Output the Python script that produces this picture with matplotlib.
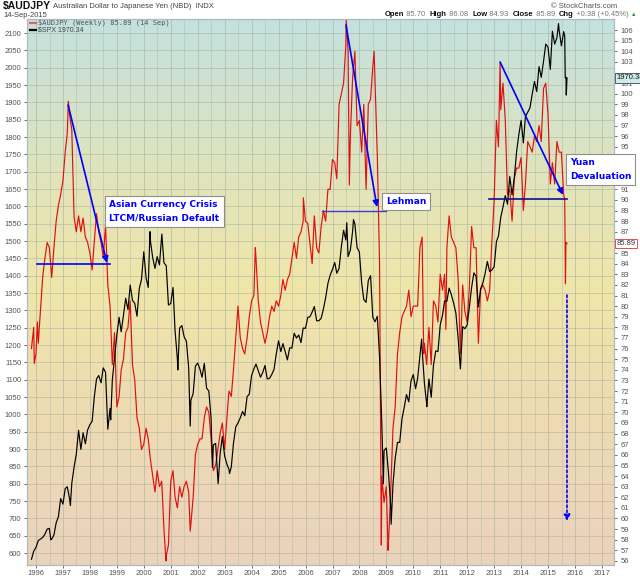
import numpy as np
import pandas as pd
import matplotlib
matplotlib.use("Agg")
import matplotlib.pyplot as plt
from matplotlib.colors import LinearSegmentedColormap
from matplotlib.lines import Line2D

# S&P 500 month-end values, Oct 1995 .. Aug 2015 (left axis)
spx_monthly = [
    582, 605, 616,
    636, 640, 645, 654, 669, 671, 640, 652, 687, 705, 757, 741,
    786, 791, 757, 801, 848, 885, 954, 899, 947, 915, 955, 970,
    980, 1049, 1102, 1112, 1091, 1134, 1121, 957, 1017, 1099, 1164, 1229,
    1280, 1238, 1286, 1335, 1302, 1373, 1329, 1320, 1283, 1363, 1389, 1469,
    1394, 1366, 1499, 1452, 1421, 1455, 1431, 1518, 1437, 1429, 1315, 1320,
    1366, 1240, 1160, 1249, 1256, 1224, 1211, 1134, 1041, 1060, 1139, 1148,
    1130, 1107, 1147, 1076, 1067, 990, 912, 916, 815, 886, 936, 880,
    856, 841, 848, 917, 964, 975, 990, 1008, 996, 1051, 1058, 1112,
    1131, 1145, 1126, 1107, 1121, 1141, 1102, 1104, 1115, 1130, 1174, 1212,
    1181, 1204, 1181, 1157, 1192, 1191, 1234, 1220, 1229, 1207, 1249, 1248,
    1280, 1281, 1295, 1311, 1270, 1270, 1277, 1304, 1336, 1378, 1401, 1418,
    1438, 1407, 1421, 1482, 1531, 1503, 1455, 1474, 1527, 1549, 1481, 1468,
    1379, 1331, 1323, 1386, 1400, 1280, 1267, 1283, 1166, 969, 896, 903,
    826, 735, 798, 873, 919, 919, 987, 1021, 1057, 1036, 1096, 1115,
    1074, 1104, 1169, 1187, 1089, 1031, 1102, 1049, 1141, 1183, 1181, 1258,
    1286, 1327, 1326, 1364, 1345, 1321, 1292, 1219, 1131, 1253, 1247, 1258,
    1312, 1366, 1408, 1398, 1310, 1362, 1379, 1407, 1441, 1412, 1416, 1426,
    1498, 1515, 1569, 1598, 1631, 1606, 1686, 1633, 1682, 1757, 1806, 1848,
    1783, 1859, 1872, 1884, 1924, 1960, 1931, 2003, 1972, 2018, 2068, 2059,
    1995, 2105, 2068, 2086, 2107, 2063, 2104, 1972,
]
spx_extra_dates = ["1996-07-19", "1997-04-11", "1998-10-09", "2000-03-24", "2000-09-01",
                   "2001-04-06", "2001-09-21", "2002-07-19", "2002-10-04", "2003-03-07",
                   "2007-07-13", "2007-10-12", "2008-11-21", "2009-03-06", "2010-04-23",
                   "2010-07-02", "2015-05-22", "2015-08-14", "2015-08-21", "2015-09-04",
                   "2015-09-14"]
spx_extra = [638, 737, 984, 1527, 1520, 1128, 966, 847, 800, 829,
             1553, 1562, 800, 683, 1217, 1022, 2127, 2091, 1971, 1921, 1970.34]

# AUD/JPY month-end values, Oct 1995 .. Aug 2015 (right axis)
aud_monthly = [
    76.0, 78.0, 75.5,
    76.5, 79.5, 82.7, 84.5, 86.0, 85.5, 82.7, 85.5, 88.0, 89.5, 90.5, 91.8,
    94.5, 96.3, 98.0, 96.6, 88.4, 87.0, 88.5, 87.0, 88.3, 86.5, 86.0, 85.0,
    83.4, 86.0, 88.7, 87.0, 86.0, 84.6, 87.6, 82.0, 80.0, 74.5, 77.5, 70.5,
    71.5, 74.0, 75.0, 77.5, 78.0, 80.5, 74.5, 73.0, 69.5, 68.5, 66.5, 67.0,
    68.5, 67.5, 65.5, 64.0, 62.5, 64.5, 63.0, 63.5, 59.0, 56.5, 57.5, 63.5,
    64.5, 62.0, 61.0, 63.0, 62.0, 63.0, 63.5, 62.5, 59.5, 62.0, 66.0, 67.0,
    67.5, 67.5, 69.5, 70.5, 70.0, 67.5, 64.5, 65.0, 66.5, 68.0, 69.0, 66.5,
    69.5, 72.0, 71.5, 74.0, 77.0, 80.0, 77.0, 76.0, 75.5, 77.0, 79.0, 80.5,
    81.0, 84.5, 80.5, 78.5, 77.5, 76.5, 77.5, 79.0, 80.0, 79.5, 80.5, 80.0,
    81.0, 82.5, 81.5, 82.5, 83.0, 84.5, 86.0, 84.5, 86.5, 87.0, 88.0, 88.0,
    87.8, 86.0, 84.0, 88.5, 85.5, 85.0, 87.5, 89.0, 88.0, 91.0, 91.0, 93.8,
    93.5, 92.0, 99.0, 100.0, 101.0, 104.5, 104.0, 96.0, 101.5, 104.0, 97.0, 97.5,
    94.5, 99.0, 91.0, 99.0, 99.5, 102.5, 101.0, 94.0, 84.0, 64.0, 61.5, 63.0,
    58.0, 62.5, 68.5, 70.5, 75.5, 77.5, 79.0, 79.5, 80.0, 81.5, 79.0, 80.0,
    80.0, 80.0, 85.5, 86.5, 76.5, 74.5, 78.0, 74.5, 80.5, 80.0, 78.5, 83.0,
    81.5, 83.0, 85.5, 88.5, 86.5, 86.0, 85.5, 82.5, 75.5, 82.0, 79.5, 78.5,
    82.0, 87.5, 85.5, 85.5, 76.5, 81.5, 82.0, 81.5, 80.5, 81.5, 86.0, 90.0,
    97.5, 95.0, 98.5, 101.0, 97.5, 90.5, 91.0, 88.0, 92.0, 93.0, 93.0, 94.0,
    89.0, 91.5, 95.5, 95.0, 94.5, 96.0, 95.5, 97.0, 95.5, 100.5, 101.0, 98.0,
    91.5, 93.5, 91.5, 95.5, 94.5, 94.5, 90.5, 86.0,
]
aud_extra_dates = ["1995-12-08", "1996-01-19", "1997-03-14", "2000-10-27", "2001-09-21",
                   "2004-02-20", "2005-12-02", "2007-07-06", "2007-08-17", "2008-07-18",
                   "2008-10-24", "2009-01-23", "2010-05-21", "2011-03-18", "2013-03-22",
                   "2015-08-14", "2015-08-24", "2015-09-14"]
aud_extra = [74.6, 78.5, 99.3, 56.0, 58.8, 85.5, 90.2, 107.0, 91.4, 104.0,
             57.5, 57.0, 75.5, 77.8, 103.0, 90.0, 82.1, 85.89]

years = list(range(1996, 2018))
left_ticks = list(range(600, 2101, 50))
right_ticks = list(range(56, 107))
right_hidden = [86, 92, 93, 94, 102]   # covered by the tags / box in the original

W, H = 640, 576


def dec_year(idx):
    idx = pd.DatetimeIndex(idx)
    days = np.where(idx.is_leap_year, 366.0, 365.0)
    return idx.year.to_numpy() + (idx.dayofyear.to_numpy() - 1) / days


def build(monthly, extra_dates, extra):
    s = pd.Series(monthly, index=pd.date_range("1995-10-31", periods=len(monthly), freq="ME"))
    e = pd.Series(extra, index=pd.to_datetime(extra_dates))
    s = pd.concat([s, e]).sort_index()
    return dec_year(s.index), s.to_numpy()


spx_x, spx_y = build(spx_monthly, spx_extra_dates, spx_extra)
aud_x, aud_y = build(aud_monthly, aud_extra_dates, aud_extra)

plt.rcParams["font.family"] = ["Liberation Sans", "DejaVu Sans"]
fig = plt.figure(figsize=(W / 100, H / 100), dpi=100)
fig.patch.set_facecolor("white")

rect = [27 / W, 1 - 565 / H, 587 / W, 546 / H]
xlim = (1995.664, 2017.445)
ylim_l = (565.4, 2140.4)
ylim_r = (55.62, 107.04)

# background axes: gradient + grid
ax_bg = fig.add_axes(rect, zorder=0)
cmap = LinearSegmentedColormap.from_list("bg", [
    (0.0, "#ebd2bc"), (0.3, "#eedcb2"), (0.5, "#f0e6a8"),
    (0.68, "#e4e4b8"), (0.85, "#d2e2cc"), (1.0, "#c3e1e0")])
ax_bg.imshow(np.linspace(0, 1, 256).reshape(-1, 1), cmap=cmap, origin="lower",
             aspect="auto", extent=[0, 1, 0, 1], transform=ax_bg.transAxes, zorder=0)
ax_bg.set_xlim(xlim)
ax_bg.set_ylim(ylim_l)
for yv in left_ticks:
    ax_bg.axhline(yv, color="#aeb8a4", lw=0.6, alpha=0.7, zorder=1)
for yr in years:
    ax_bg.axvline(yr, color="#aeb8a4", lw=0.6, alpha=0.8, zorder=1)
    ax_bg.axvline(yr + 0.5, color="#aeb8a4", lw=0.5, alpha=0.6, zorder=1)
ax_bg.set_xticks([])
ax_bg.set_yticks([])
for sp in ax_bg.spines.values():
    sp.set_visible(False)

# right axis: AUDJPY
ax_r = fig.add_axes(rect, zorder=1)
ax_r.patch.set_visible(False)
ax_r.plot(aud_x, aud_y, color="#e01010", lw=0.85)
ax_r.set_xlim(xlim)
ax_r.set_ylim(ylim_r)
ax_r.yaxis.tick_right()
ax_r.set_yticks(right_ticks)
ax_r.set_yticklabels(["" if v in right_hidden else str(v) for v in right_ticks])
ax_r.set_xticks([])
ax_r.tick_params(axis="y", labelsize=5.5, colors="#555555", length=2.5, width=0.6, pad=2)

# left axis: SPX
ax_l = fig.add_axes(rect, zorder=2)
ax_l.patch.set_visible(False)
ax_l.plot(spx_x, spx_y, color="black", lw=0.85)
ax_l.set_xlim(xlim)
ax_l.set_ylim(ylim_l)
ax_l.set_yticks(left_ticks)
ax_l.set_xticks(years)
ax_l.set_xticklabels([str(y) for y in years])
ax_l.tick_params(axis="y", labelsize=5.5, colors="#555555", length=2.5, width=0.6, pad=1.5)
ax_l.tick_params(axis="x", labelsize=5.5, colors="#555555", length=2, width=0.6, pad=1.5)
for a in (ax_l, ax_r):
    for sp in a.spines.values():
        sp.set_color("#a9bcc2")
        sp.set_linewidth(0.8)

# annotations (left-axis units)
blue = "#0000ff"
arrow = dict(arrowstyle="-|>", color=blue, lw=1.2, mutation_scale=9, shrinkA=0, shrinkB=0)
box = dict(boxstyle="square,pad=0.45", fc="white", ec="#8f8f8f", lw=0.8)
txt = dict(color=blue, fontsize=6.5, fontweight="bold", family="DejaVu Sans",
           va="center", ha="left", linespacing=1.6, zorder=6)

ax_l.plot([1996.04, 1998.74], [1434, 1434], color=blue, lw=1.2, zorder=5)
ax_l.annotate("", xy=(1998.63, 1437), xytext=(1997.19, 1892), arrowprops=arrow, zorder=5)
ax_l.text(1998.72, 1585, "Asian Currency Crisis\nLTCM/Russian Default", bbox=box, **txt)

ax_l.plot([2006.61, 2008.99], [1587, 1587], color="#3b3bd6", lw=1.0, zorder=5)
ax_l.annotate("", xy=(2008.65, 1598), xytext=(2007.50, 2123), arrowprops=arrow, zorder=5)
ax_l.text(2008.98, 1613, "Lehman", bbox=dict(box, pad=0.35), **txt)

ax_l.plot([2012.81, 2015.70], [1621, 1621], color="#10108a", lw=1.2, zorder=5)
ax_l.annotate("", xy=(2015.55, 1633), xytext=(2013.22, 2016), arrowprops=arrow, zorder=5)
ax_l.text(2015.80, 1706, "Yuan\nDevaluation", bbox=box, clip_on=False, **txt)

ax_l.annotate("", xy=(2015.70, 692), xytext=(2015.70, 1344),
              arrowprops=dict(arrow, linestyle=(0, (1.5, 1.5))), zorder=5)

# price tags on the right axis
ax_r.text(1.004, 1970.34, "1970.34", transform=ax_l.get_yaxis_transform(), fontsize=5.5,
          va="center", ha="left", color="#111111", clip_on=False, zorder=8,
          bbox=dict(boxstyle="square,pad=0.15", fc="#cdebea", ec="#444444", lw=0.6))
ax_r.text(1.004, 85.89, "85.89", transform=ax_r.get_yaxis_transform(), fontsize=5.5,
          va="center", ha="left", color="#333333", clip_on=False, zorder=8,
          bbox=dict(boxstyle="square,pad=0.15", fc="white", ec="#e03030", lw=0.6))

# legend inside plot
fig.add_artist(Line2D([30 / W, 36 / W], [1 - 23 / H] * 2, color="#e86060", lw=1.6))
fig.text(37.5 / W, 1 - 23 / H, "$AUDJPY (Weekly) 85.89 (14 Sep)", family="DejaVu Sans Mono",
         fontsize=5, color="#555555", va="center", ha="left")
fig.add_artist(Line2D([30 / W, 36 / W], [1 - 29.5 / H] * 2, color="black", lw=1.6))
fig.text(37.5 / W, 1 - 29.5 / H, "$SPX 1970.34", fontsize=5, color="#444444",
         va="center", ha="left")

# header
fig.text(3 / W, 1 - 6.5 / H, "$AUDJPY", fontsize=7.5, fontweight="bold", color="#111111",
         va="center", ha="left")
fig.text(53 / W, 1 - 6.5 / H, "Australian Dollar to Japanese Yen (NBD)  INDX", fontsize=5.5,
         color="#444444", va="center", ha="left")
fig.text(3 / W, 1 - 15.5 / H, "14-Sep-2015", fontsize=5.5, color="#444444",
         va="center", ha="left")
fig.text(617 / W, 1 - 6 / H, "\u00a9 StockCharts.com", fontsize=5.5, color="#555555",
         va="center", ha="right")

renderer = fig.canvas.get_renderer()
runs = [("Open", "bold", "#111111"), (" 85.70  ", "normal", "#777777"),
        ("High", "bold", "#111111"), (" 86.08  ", "normal", "#777777"),
        ("Low", "bold", "#111111"), (" 84.93  ", "normal", "#777777"),
        ("Close", "bold", "#111111"), (" 85.89  ", "normal", "#777777"),
        ("Chg", "bold", "#111111"), (" +0.38 (+0.45%) ", "normal", "#777777"),
        ("\u25b2", "normal", "#2a9a2a")]
xp = 385
for s, w, c in runs:
    t = fig.text(xp / W, 1 - 15 / H, s, fontsize=5.5 if s != "\u25b2" else 4, fontweight=w,
                 color=c, va="center", ha="left")
    xp += t.get_window_extent(renderer).width

fig.savefig("out.png", dpi=100)
